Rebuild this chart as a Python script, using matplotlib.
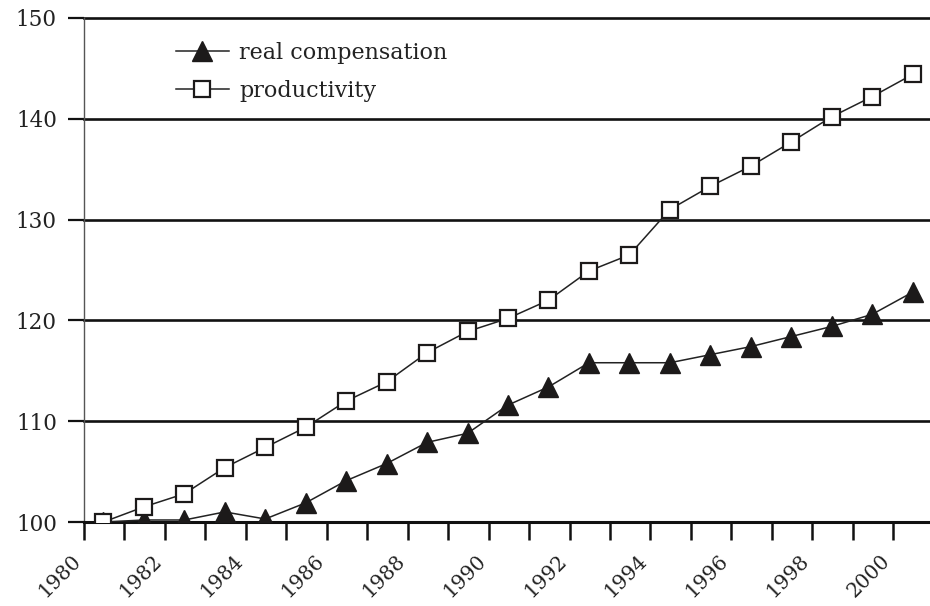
import numpy as np
import matplotlib.pyplot as plt
import matplotlib.transforms as mtransforms
from matplotlib.ticker import MultipleLocator

years = list(range(1980, 2001))
real_compensation = [100.0, 100.2, 100.2, 101.0, 100.3, 101.9, 104.1, 105.8, 107.9, 108.8,
                     111.6, 113.4, 115.8, 115.8, 115.8, 116.6, 117.4, 118.4, 119.4, 120.6, 122.8]
productivity = [100.0, 101.5, 102.8, 105.4, 107.4, 109.4, 112.0, 113.9, 116.8, 118.9,
                120.2, 122.0, 124.9, 126.5, 131.0, 133.3, 135.3, 137.7, 140.2, 142.2, 144.4]
tick_years = list(range(1980, 2001, 2))

plt.rcParams['font.family'] = ['DejaVu Serif']

fig = plt.figure(figsize=(9.3, 6.06), dpi=100)
ax = fig.add_axes([0.0903, 0.1386, 0.9097, 0.8317])

x = np.array(years) + 0.48
ax.plot(x, real_compensation, color='#222222', lw=1.1, marker='^', markersize=14,
        markerfacecolor='#1c1a1a', markeredgecolor='#1c1a1a', label='real compensation', zorder=3)
ax.plot(x, productivity, color='#222222', lw=1.1, marker='s', markersize=11.5,
        markerfacecolor='white', markeredgecolor='#1c1a1a', markeredgewidth=1.6,
        label='productivity', zorder=4)

ax.set_xlim(1980, 2000.91)
ax.set_ylim(100, 150)

# horizontal grid lines
for v in range(110, 151, 10):
    ax.axhline(v, color='#111111', lw=1.9, zorder=1, clip_on=False)

ax.set_yticks(range(100, 151, 10))
ax.yaxis.set_tick_params(length=11.5, width=1.6, color='#111111', labelsize=15.5, pad=8)
ax.xaxis.set_major_locator(MultipleLocator(2))
ax.xaxis.set_minor_locator(MultipleLocator(1))
ax.set_xticks(tick_years)
ax.set_xticklabels([str(y) for y in tick_years], rotation=45, ha='right', va='center',
                   rotation_mode='anchor', fontsize=14.5)
ax.xaxis.set_tick_params(which='both', length=13, width=1.8, color='#111111', pad=13)

# nudge the rotated year labels a little to the left
offset = mtransforms.ScaledTranslation(-6 / 100, 0, fig.dpi_scale_trans)
for lab in ax.get_xticklabels():
    lab.set_transform(lab.get_transform() + offset)

for s in ['top', 'right']:
    ax.spines[s].set_visible(False)
ax.spines['bottom'].set_linewidth(2.2)
ax.spines['bottom'].set_color('#111111')
ax.spines['left'].set_linewidth(1.0)
ax.spines['left'].set_color('#555555')
for lab in ax.get_yticklabels() + ax.get_xticklabels():
    lab.set_color('#222222')

leg = ax.legend(loc='upper left', bbox_to_anchor=(0.098, 0.971), frameon=False,
                fontsize=16, handlelength=2.4, handletextpad=0.45, labelspacing=0.72,
                borderaxespad=0)
for t in leg.get_texts():
    t.set_color('#222222')

fig.savefig('out.png', dpi=100)
